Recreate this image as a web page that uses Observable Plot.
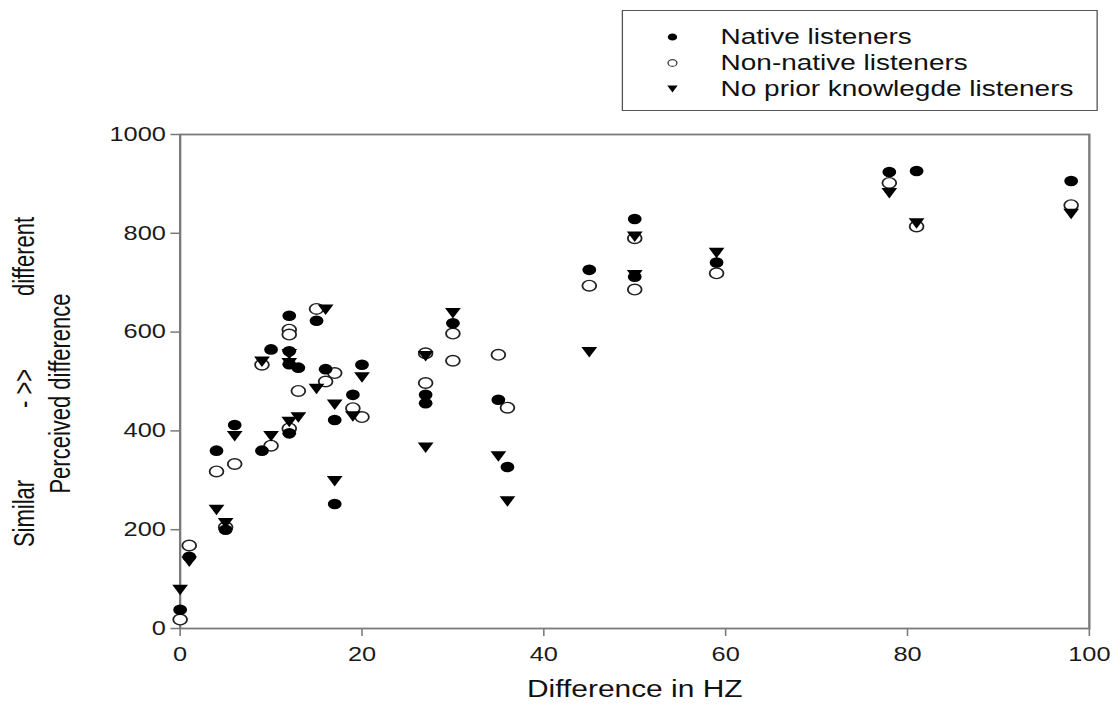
<!DOCTYPE html>
<html>
<head>
<meta charset="utf-8">
<script src="https://cdn.jsdelivr.net/npm/d3@7"></script>
<script src="https://cdn.jsdelivr.net/npm/@observablehq/plot@0.6"></script>
<style>
html,body{margin:0;padding:0;background:#fff;}
#page{position:absolute;left:0;top:0;width:858px;height:707px;transform:scaleX(1.3007);transform-origin:0 0;font-family:"Liberation Sans",Arial,sans-serif;color:#111;}
#chart{position:absolute;left:0;top:0;}
#legend{position:absolute;left:478px;top:10px;width:366px;height:101px;border:1.5px solid #555;box-sizing:border-box;background:#fff;}
.row{position:absolute;left:0;width:100%;height:26px;}
.row svg{position:absolute;left:31px;top:6px;}
.row span{position:absolute;left:75px;top:0;font-size:21.5px;line-height:26px;white-space:nowrap;color:#111;}
</style>
</head>
<body>
<div id="page"><div id="chart"></div><div id="legend"></div></div>
<script>
// ---- data ----
const seriesNames = ["Native listeners", "Non-native listeners", "No prior knowlegde listeners"];
const xTicks = [0, 20, 40, 60, 80, 100];
const yTicks = [0, 200, 400, 600, 800, 1000];

const nativeHz    = [0, 1, 4, 5, 6, 9, 10, 12, 12, 12, 13, 12, 15, 16, 17, 17, 19, 20, 27, 27, 30, 35, 36, 45, 50, 50, 59, 78, 81, 98];
const nativeScore = [38, 145, 360, 200, 412, 360, 565, 633, 561, 535, 528, 395, 623, 525, 422, 252, 473, 534, 473, 456, 618, 463, 327, 726, 829, 712, 741, 924, 926, 906];

const nonNativeHz    = [0, 1, 4, 5, 6, 9, 10, 12, 12, 12, 13, 15, 16, 17, 19, 20, 27, 27, 30, 30, 35, 36, 45, 50, 50, 59, 78, 81, 98];
const nonNativeScore = [18, 168, 318, 205, 333, 534, 370, 605, 595, 405, 481, 647, 500, 517, 446, 428, 557, 497, 597, 542, 554, 447, 694, 790, 686, 719, 902, 814, 857];

const noPriorHz    = [0, 1, 4, 5, 6, 9, 10, 12, 12, 12, 13, 15, 16, 17, 17, 19, 20, 27, 27, 30, 35, 36, 45, 50, 50, 59, 78, 81, 98];
const noPriorScore = [78, 135, 240, 213, 389, 540, 389, 555, 537, 418, 427, 485, 645, 453, 298, 429, 508, 551, 366, 638, 348, 257, 559, 793, 715, 760, 881, 820, 839];

const yLabel = "Perceived difference";
const yLabelScale = ["Similar", "- >>", "different"];
const xLabel = "Difference in HZ";

// ---- build tables ----
const toRows = (xs, ys) => xs.map((x, i) => ({hz: x, score: ys[i]}));
const native = toRows(nativeHz, nativeScore);
const nonNative = toRows(nonNativeHz, nonNativeScore);
const noPrior = toRows(noPriorHz, noPriorScore);

const triangleDown = {
  draw(context, size) {
    const s = Math.sqrt(size * 4 / Math.sqrt(3));
    const h = s * Math.sqrt(3) / 2;
    context.moveTo(-s / 2, -h / 2);
    context.lineTo(s / 2, -h / 2);
    context.lineTo(0, h / 2);
    context.closePath();
  }
};

const axisColor = "#7a7a7a";
const font = '"Liberation Sans", Arial, sans-serif';
const rotLabel = (txt, dx, dy) => Plot.text([txt], {frameAnchor: "left", textAnchor: "middle", lineAnchor: "middle", dx, dy, rotate: -90, fontSize: 22, fill: "#111"});

const chart = Plot.plot({
  width: 858,
  height: 707,
  marginLeft: 138,
  marginRight: 21,
  marginTop: 134,
  marginBottom: 79,
  style: {fontFamily: font, background: "transparent", color: "#111"},
  x: {domain: [0, 100], axis: null},
  y: {domain: [0, 1000], axis: null},
  marks: [
    Plot.axisY(yTicks, {tickSize: 7, tickPadding: 4, stroke: axisColor, strokeWidth: 1.5, fill: "#1a1a1a", fontSize: 19.5, tickFormat: d => String(d), label: null}),
    Plot.axisX(xTicks, {tickSize: 8, tickPadding: 11, stroke: axisColor, strokeWidth: 1.2, fill: "#1a1a1a", fontSize: 19.5, tickFormat: d => String(d), label: null}),
    Plot.frame({stroke: axisColor, strokeWidth: 1.8}),
    Plot.dot(nonNative, {x: "hz", y: "score", r: 5.3, fill: "white", stroke: "#222", strokeWidth: 1.4}),
    Plot.dot(native, {x: "hz", y: "score", r: 5.3, fill: "black"}),
    Plot.dot(noPrior, {x: "hz", y: "score", r: 4.5, symbol: triangleDown, fill: "black"}),
    Plot.text([xLabel], {frameAnchor: "bottom", dy: 68, fontSize: 23, fill: "#111"}),
    rotLabel(yLabel, -92, 12),
    rotLabel(yLabelScale[0], -119.5, 132),
    rotLabel(yLabelScale[1], -119.5, 7),
    rotLabel(yLabelScale[2], -119.5, -125)
  ]
});
document.getElementById("chart").appendChild(chart);

// ---- legend ----
const legend = document.getElementById("legend");
const symbolsSvg = [
  '<svg width="14" height="14"><circle cx="7" cy="7" r="3.6" fill="black"/></svg>',
  '<svg width="14" height="14"><circle cx="7" cy="7" r="3.4" fill="white" stroke="#444" stroke-width="1.1"/></svg>',
  '<svg width="14" height="14"><path d="M3,3.5 L11,3.5 L7,10.5 Z" fill="black"/></svg>'
];
const rowTops = [12.5, 38.5, 64.5];
seriesNames.forEach((name, i) => {
  const row = document.createElement("div");
  row.className = "row";
  row.style.top = rowTops[i] + "px";
  row.innerHTML = symbolsSvg[i] + "<span></span>";
  row.querySelector("span").textContent = name;
  legend.appendChild(row);
});
</script>
</body>
</html>
